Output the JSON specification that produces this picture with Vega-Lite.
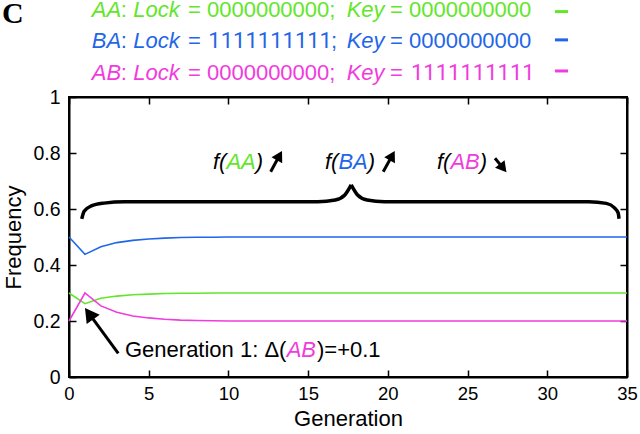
{
  "$schema": "https://vega.github.io/schema/vega-lite/v6.json",
  "width": 558,
  "height": 280,
  "autosize": {"type": "none"},
  "padding": {"left": 69, "top": 97, "right": 13, "bottom": 57},
  "background": "white",
  "config": {
    "view": {"stroke": "black", "strokeWidth": 2},
    "font": "Liberation Sans",
    "axis": {
      "grid": false,
      "labelFlush": false,
      "labelFont": "Liberation Sans",
      "labelFontSize": 18.5,
      "labelColor": "black",
      "titleFont": "Liberation Sans",
      "titleFontSize": 22,
      "titleFontWeight": "normal",
      "titleColor": "black",
      "domainColor": "black",
      "domainWidth": 2,
      "tickColor": "black",
      "tickWidth": 1.5,
      "tickSize": -7
    }
  },
  "datasets": {
    "freq": [
      {"gen": 0, "series": "AA", "freq": 0.300}, {"gen": 0, "series": "BA", "freq": 0.500}, {"gen": 0, "series": "AB", "freq": 0.200},
      {"gen": 1, "series": "AA", "freq": 0.262}, {"gen": 1, "series": "BA", "freq": 0.438}, {"gen": 1, "series": "AB", "freq": 0.300},
      {"gen": 2, "series": "AA", "freq": 0.281}, {"gen": 2, "series": "BA", "freq": 0.465}, {"gen": 2, "series": "AB", "freq": 0.254},
      {"gen": 3, "series": "AA", "freq": 0.289}, {"gen": 3, "series": "BA", "freq": 0.480}, {"gen": 3, "series": "AB", "freq": 0.231},
      {"gen": 4, "series": "AA", "freq": 0.294}, {"gen": 4, "series": "BA", "freq": 0.488}, {"gen": 4, "series": "AB", "freq": 0.218},
      {"gen": 5, "series": "AA", "freq": 0.296}, {"gen": 5, "series": "BA", "freq": 0.493}, {"gen": 5, "series": "AB", "freq": 0.211},
      {"gen": 6, "series": "AA", "freq": 0.298}, {"gen": 6, "series": "BA", "freq": 0.496}, {"gen": 6, "series": "AB", "freq": 0.206},
      {"gen": 7, "series": "AA", "freq": 0.299}, {"gen": 7, "series": "BA", "freq": 0.498}, {"gen": 7, "series": "AB", "freq": 0.203},
      {"gen": 8, "series": "AA", "freq": 0.299}, {"gen": 8, "series": "BA", "freq": 0.499}, {"gen": 8, "series": "AB", "freq": 0.202},
      {"gen": 9, "series": "AA", "freq": 0.300}, {"gen": 9, "series": "BA", "freq": 0.499}, {"gen": 9, "series": "AB", "freq": 0.201},
      {"gen": 10, "series": "AA", "freq": 0.300}, {"gen": 10, "series": "BA", "freq": 0.500}, {"gen": 10, "series": "AB", "freq": 0.200},
      {"gen": 15, "series": "AA", "freq": 0.300}, {"gen": 15, "series": "BA", "freq": 0.500}, {"gen": 15, "series": "AB", "freq": 0.200},
      {"gen": 20, "series": "AA", "freq": 0.300}, {"gen": 20, "series": "BA", "freq": 0.500}, {"gen": 20, "series": "AB", "freq": 0.200},
      {"gen": 25, "series": "AA", "freq": 0.300}, {"gen": 25, "series": "BA", "freq": 0.500}, {"gen": 25, "series": "AB", "freq": 0.200},
      {"gen": 30, "series": "AA", "freq": 0.300}, {"gen": 30, "series": "BA", "freq": 0.500}, {"gen": 30, "series": "AB", "freq": 0.200},
      {"gen": 35, "series": "AA", "freq": 0.300}, {"gen": 35, "series": "BA", "freq": 0.500}, {"gen": 35, "series": "AB", "freq": 0.200}
    ],
    "brace": [
      {"part": "L", "gen": 0.8, "freq": 0.565}, {"part": "L", "gen": 0.95, "freq": 0.592}, {"part": "L", "gen": 1.4, "freq": 0.611},
      {"part": "L", "gen": 2.2, "freq": 0.621}, {"part": "L", "gen": 3.5, "freq": 0.626}, {"part": "L", "gen": 15.6, "freq": 0.626},
      {"part": "L", "gen": 16.7, "freq": 0.632}, {"part": "L", "gen": 17.3, "freq": 0.65}, {"part": "L", "gen": 17.7, "freq": 0.686},
      {"part": "R", "gen": 17.7, "freq": 0.686}, {"part": "R", "gen": 18.1, "freq": 0.65}, {"part": "R", "gen": 18.7, "freq": 0.632},
      {"part": "R", "gen": 19.8, "freq": 0.626}, {"part": "R", "gen": 32.6, "freq": 0.626}, {"part": "R", "gen": 33.7, "freq": 0.62},
      {"part": "R", "gen": 34.2, "freq": 0.605}, {"part": "R", "gen": 34.45, "freq": 0.585}, {"part": "R", "gen": 34.5, "freq": 0.565}
    ],
    "italic": [
      {"gen": 1.424, "freq": 1.284, "text": "AA", "series": "AA"},
      {"gen": 4.033, "freq": 1.284, "text": "Lock", "series": "AA"},
      {"gen": 17.418, "freq": 1.284, "text": "Key", "series": "AA"},
      {"gen": 1.424, "freq": 1.176, "text": "BA", "series": "BA"},
      {"gen": 4.033, "freq": 1.176, "text": "Lock", "series": "BA"},
      {"gen": 17.418, "freq": 1.176, "text": "Key", "series": "BA"},
      {"gen": 1.424, "freq": 1.061, "text": "AB", "series": "AB"},
      {"gen": 4.033, "freq": 1.061, "text": "Lock", "series": "AB"},
      {"gen": 17.418, "freq": 1.061, "text": "Key", "series": "AB"},
      {"gen": 9.032, "freq": 0.742, "text": "f(", "series": "none"},
      {"gen": 9.873, "freq": 0.742, "text": "AA", "series": "AA"},
      {"gen": 11.717, "freq": 0.742, "text": ")", "series": "none"},
      {"gen": 16.057, "freq": 0.742, "text": "f(", "series": "none"},
      {"gen": 16.897, "freq": 0.742, "text": "BA", "series": "BA"},
      {"gen": 18.742, "freq": 0.742, "text": ")", "series": "none"},
      {"gen": 23.082, "freq": 0.742, "text": "f(", "series": "none"},
      {"gen": 23.922, "freq": 0.742, "text": "AB", "series": "AB"},
      {"gen": 25.767, "freq": 0.742, "text": ")", "series": "none"},
      {"gen": 13.655, "freq": 0.0725, "text": "AB", "series": "AB"}
    ],
    "plain": [
      {"gen": 3.243, "freq": 1.284, "text": ":", "series": "AA"},
      {"gen": 7.464, "freq": 1.284, "text": "= 0000000000;", "series": "AA"},
      {"gen": 20.134, "freq": 1.284, "text": "= 0000000000", "series": "AA"},
      {"gen": 3.243, "freq": 1.176, "text": ":", "series": "BA"},
      {"gen": 7.464, "freq": 1.176, "text": "=", "series": "BA"},
      {"gen": 16.43, "freq": 1.176, "text": ";", "series": "BA"},
      {"gen": 20.134, "freq": 1.176, "text": "= 0000000000", "series": "BA"},
      {"gen": 3.243, "freq": 1.061, "text": ":", "series": "AB"},
      {"gen": 7.464, "freq": 1.061, "text": "= 0000000000;", "series": "AB"},
      {"gen": 20.134, "freq": 1.061, "text": "=", "series": "AB"},
      {"gen": 3.512, "freq": 0.0725, "text": "Generation 1: Δ(", "series": "none"},
      {"gen": 15.555, "freq": 0.0725, "text": ")=+0.1", "series": "none"}
    ],
    "ones": [
      {"gen": 8.74, "freq": 1.176, "text": "1111111111", "series": "BA"},
      {"gen": 21.45, "freq": 1.061, "text": "1111111111", "series": "AB"}
    ],
    "panel": [
      {"gen": -4.2, "freq": 1.263, "text": "C"}
    ],
    "dashes": [
      {"gen": 30.48, "gen2": 31.3, "freq": 1.305, "series": "AA"},
      {"gen": 30.48, "gen2": 31.3, "freq": 1.204, "series": "BA"},
      {"gen": 30.48, "gen2": 31.3, "freq": 1.093, "series": "AB"}
    ],
    "shafts": [
      {"id": "AA", "gen": 12.65, "freq": 0.733, "gen2": 13.2, "freq2": 0.791},
      {"id": "BA", "gen": 19.71, "freq": 0.733, "gen2": 20.27, "freq2": 0.791},
      {"id": "AB", "gen": 26.72, "freq": 0.781, "gen2": 27.23, "freq2": 0.746},
      {"id": "big", "gen": 3.09, "freq": 0.0846, "gen2": 1.26, "freq2": 0.226}
    ],
    "heads": [
      {"id": "AA", "gen": 13.2, "freq": 0.791},
      {"id": "BA", "gen": 20.27, "freq": 0.791},
      {"id": "AB", "gen": 27.23, "freq": 0.746},
      {"id": "big", "gen": 1.26, "freq": 0.226}
    ]
  },
  "resolve": {"axis": {"x": "independent", "y": "independent"}},
  "layer": [
    {
      "data": {"name": "freq"},
      "mark": {"type": "line", "strokeWidth": 1.6},
      "encoding": {
        "x": {"field": "gen", "type": "quantitative",
              "scale": {"domain": [0, 35], "nice": false, "zero": false, "padding": 0},
              "axis": {"orient": "bottom", "values": [0, 5, 10, 15, 20, 25, 30, 35], "title": "Generation", "labelPadding": 14, "titlePadding": 6}},
        "y": {"field": "freq", "type": "quantitative",
              "scale": {"domain": [0, 1], "nice": false, "zero": false, "padding": 0},
              "axis": {"orient": "left", "values": [0, 0.2, 0.4, 0.6, 0.8, 1], "format": "~g", "title": "Frequency", "labelPadding": 16, "labelFontSize": 19.5, "titlePadding": 7}},
        "color": {"field": "series", "type": "nominal",
                  "scale": {"domain": ["AA", "BA", "AB", "none"], "range": ["#62E62A", "#1F66E8", "#F03CDC", "#000000"]},
                  "legend": null}
      }
    },
    {
      "data": {"name": "brace"},
      "mark": {"type": "line", "strokeWidth": 3.5, "color": "black", "interpolate": "monotone"},
      "encoding": {
        "x": {"field": "gen", "type": "quantitative",
              "scale": {"domain": [0, 35], "nice": false, "zero": false, "padding": 0},
              "axis": {"orient": "top", "values": [0, 5, 10, 15, 20, 25, 30, 35], "labels": false, "title": null}},
        "y": {"field": "freq", "type": "quantitative",
              "scale": {"domain": [0, 1], "nice": false, "zero": false, "padding": 0},
              "axis": {"orient": "right", "values": [0, 0.2, 0.4, 0.6, 0.8, 1], "labels": false, "title": null}},
        "detail": {"field": "part"}
      }
    },
    {
      "data": {"name": "italic"},
      "mark": {"type": "text", "fontStyle": "italic", "fontSize": 22, "align": "left", "baseline": "alphabetic", "font": "Liberation Sans"},
      "encoding": {
        "x": {"field": "gen", "type": "quantitative", "axis": null},
        "y": {"field": "freq", "type": "quantitative", "axis": null},
        "text": {"field": "text"},
        "color": {"field": "series", "type": "nominal", "legend": null}
      }
    },
    {
      "data": {"name": "plain"},
      "mark": {"type": "text", "fontSize": 22, "align": "left", "baseline": "alphabetic", "font": "Liberation Sans"},
      "encoding": {
        "x": {"field": "gen", "type": "quantitative", "axis": null},
        "y": {"field": "freq", "type": "quantitative", "axis": null},
        "text": {"field": "text"},
        "color": {"field": "series", "type": "nominal", "legend": null}
      }
    },
    {
      "data": {"name": "ones"},
      "mark": {"type": "text", "fontSize": 22, "align": "left", "baseline": "alphabetic", "font": "Roboto"},
      "encoding": {
        "x": {"field": "gen", "type": "quantitative", "axis": null},
        "y": {"field": "freq", "type": "quantitative", "axis": null},
        "text": {"field": "text"},
        "color": {"field": "series", "type": "nominal", "legend": null}
      }
    },
    {
      "data": {"name": "panel"},
      "mark": {"type": "text", "fontSize": 30, "fontWeight": "bold", "align": "left", "baseline": "alphabetic", "font": "Liberation Serif", "color": "black"},
      "encoding": {
        "x": {"field": "gen", "type": "quantitative", "axis": null},
        "y": {"field": "freq", "type": "quantitative", "axis": null},
        "text": {"field": "text"}
      }
    },
    {
      "data": {"name": "dashes"},
      "mark": {"type": "rule", "strokeWidth": 3},
      "encoding": {
        "x": {"field": "gen", "type": "quantitative", "axis": null},
        "x2": {"field": "gen2"},
        "y": {"field": "freq", "type": "quantitative", "axis": null},
        "color": {"field": "series", "type": "nominal", "legend": null}
      }
    },
    {
      "data": {"name": "shafts"},
      "mark": {"type": "rule", "strokeWidth": 3, "color": "black"},
      "encoding": {
        "x": {"field": "gen", "type": "quantitative", "axis": null},
        "x2": {"field": "gen2"},
        "y": {"field": "freq", "type": "quantitative", "axis": null},
        "y2": {"field": "freq2"}
      }
    },
    {
      "data": {"name": "heads"},
      "transform": [{"filter": "datum.id === 'AA' || datum.id === 'BA'"}],
      "mark": {"type": "point", "shape": "triangle-up", "filled": true, "opacity": 1, "color": "black", "size": 150, "angle": 29},
      "encoding": {
        "x": {"field": "gen", "type": "quantitative", "axis": null},
        "y": {"field": "freq", "type": "quantitative", "axis": null}
      }
    },
    {
      "data": {"name": "heads"},
      "transform": [{"filter": "datum.id === 'AB'"}],
      "mark": {"type": "point", "shape": "triangle-up", "filled": true, "opacity": 1, "color": "black", "size": 150, "angle": 141},
      "encoding": {
        "x": {"field": "gen", "type": "quantitative", "axis": null},
        "y": {"field": "freq", "type": "quantitative", "axis": null}
      }
    },
    {
      "data": {"name": "heads"},
      "transform": [{"filter": "datum.id === 'big'"}],
      "mark": {"type": "point", "shape": "triangle-up", "filled": true, "opacity": 1, "color": "black", "size": 260, "angle": 324},
      "encoding": {
        "x": {"field": "gen", "type": "quantitative", "axis": null},
        "y": {"field": "freq", "type": "quantitative", "axis": null}
      }
    }
  ]
}
